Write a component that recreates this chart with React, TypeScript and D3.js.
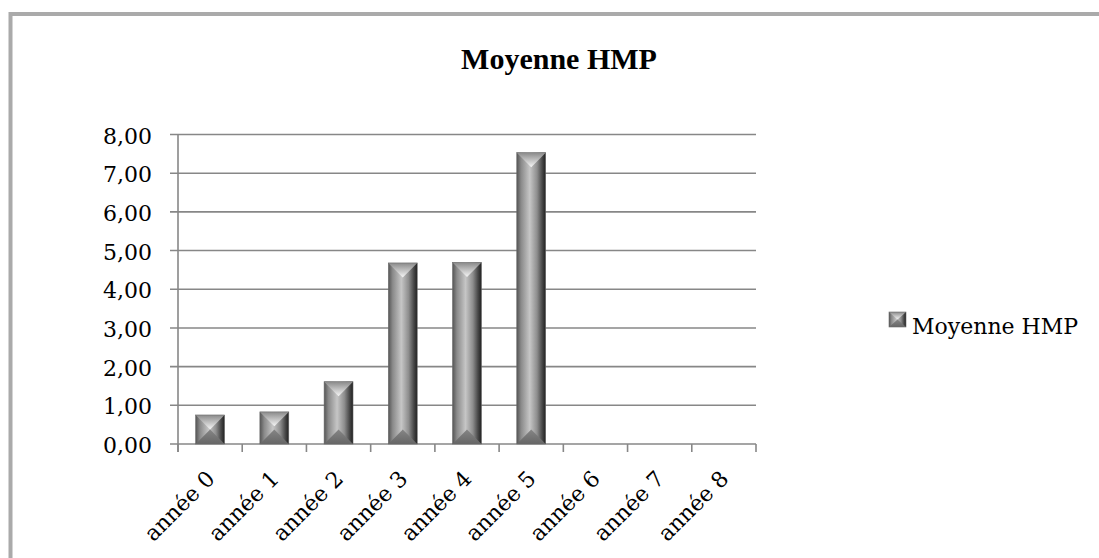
import React from 'react';
import * as d3 from 'd3';

const categories = ['année 0', 'année 1', 'année 2', 'année 3', 'année 4', 'année 5', 'année 6', 'année 7', 'année 8'];
const moyenneHmp: (number | null)[] = [0.75, 0.83, 1.61, 4.68, 4.69, 7.53, null, null, null];
const yTicks = [0, 1, 2, 3, 4, 5, 6, 7, 8];
const seriesName = 'Moyenne HMP';
const title = 'Moyenne HMP';

const W = 1099;
const H = 558;
const plot = { left: 178, right: 756, top: 134.5, bottom: 444 };
const titleFont = '"Liberation Serif", "Times New Roman", serif';
const labelFont = '"DejaVu Serif", serif';

const fr = d3.formatLocale({ decimal: ',', thousands: ' ', grouping: [3], currency: ['', '€'] });
const fmt = fr.format('.2f');

// bevelled column: body gradient + light top triangle + darker bottom triangle
const Bevel = ({ x, y, w, h }: { x: number; y: number; w: number; h: number }) => {
  const b = Math.min(w / 2, h / 2);
  const top = `${x},${y} ${x + w},${y} ${x + w / 2},${y + b}`;
  const bot = `${x},${y + h} ${x + w},${y + h} ${x + w / 2},${y + h - b}`;
  return (
    <g>
      <rect x={x} y={y} width={w} height={h} fill="url(#body)" />
      <polygon points={top} fill="url(#topFace)" />
      <polygon points={bot} fill="url(#botFace)" />
      <rect x={x} y={y} width={w} height={h} fill="none" stroke="#6a6a6a" strokeWidth={0.6} />
    </g>
  );
};

export default function App() {
  const x = d3.scaleBand<string>().domain(categories).range([plot.left, plot.right]);
  const y = d3.scaleLinear().domain([0, 8]).range([plot.bottom, plot.top]);
  const step = x.step();
  const barW = step * 0.45;
  const tickXs = [...categories.map((c) => x(c) as number), plot.right];

  return (
    <svg
      width={W}
      height={H}
      style={{ position: 'absolute', left: 0, top: 0, background: '#fff' }}
      fontFamily={labelFont}
    >
      <defs>
        <linearGradient id="body" x1="0" x2="1" y1="0" y2="0">
          <stop offset="0" stopColor="#555" />
          <stop offset="0.15" stopColor="#8a8a8a" />
          <stop offset="0.45" stopColor="#c6c6c6" />
          <stop offset="0.7" stopColor="#8e8e8e" />
          <stop offset="0.88" stopColor="#484848" />
          <stop offset="1" stopColor="#202020" />
        </linearGradient>
        <linearGradient id="topFace" x1="0" x2="0" y1="0" y2="1">
          <stop offset="0" stopColor="#8a8a8a" />
          <stop offset="1" stopColor="#f6f6f6" />
        </linearGradient>
        <linearGradient id="botFace" x1="0" x2="0" y1="0" y2="1">
          <stop offset="0" stopColor="#858585" />
          <stop offset="1" stopColor="#666" />
        </linearGradient>
      </defs>

      <rect x={10.5} y={14} width={1200} height={700} fill="#fff" stroke="#aaaaaa" strokeWidth={4} />

      <text x={559} y={69} textAnchor="middle" fontSize={30} fontWeight="bold" fill="#000" fontFamily={titleFont}>
        {title}
      </text>

      {/* gridlines + y ticks */}
      {yTicks.map((t) => (
        <g key={t}>
          <line x1={plot.left - 8} x2={plot.right} y1={y(t)} y2={y(t)} stroke="#878787" strokeWidth={1.6} />
          <text x={152} y={y(t) + 9} textAnchor="end" fontSize={22} fill="#000">
            {fmt(t)}
          </text>
        </g>
      ))}

      {/* y axis */}
      <line x1={plot.left} x2={plot.left} y1={plot.top} y2={plot.bottom + 8} stroke="#878787" strokeWidth={1.6} />
      {tickXs.map((tx, i) => (
        <line key={i} x1={tx} x2={tx} y1={plot.bottom} y2={plot.bottom + 8} stroke="#878787" strokeWidth={1.6} />
      ))}

      {/* bars */}
      {categories.map((c, i) => {
        const v = moyenneHmp[i];
        if (v == null) return null;
        const cx = (x(c) as number) + step / 2;
        return <Bevel key={c} x={cx - barW / 2} y={y(v)} w={barW} h={y(0) - y(v)} />;
      })}

      {/* x labels */}
      {categories.map((c) => {
        const cx = (x(c) as number) + step / 2;
        return (
          <text
            key={c}
            transform={`translate(${cx + 6},${480}) rotate(-45)`}
            textAnchor="end"
            fontSize={22}
            fill="#000"
          >
            {c}
          </text>
        );
      })}

      {/* legend */}
      <Bevel x={889} y={312} w={17} h={15} />
      <text x={912} y={334} fontSize={22} fill="#000">
        {seriesName}
      </text>
    </svg>
  );
}
